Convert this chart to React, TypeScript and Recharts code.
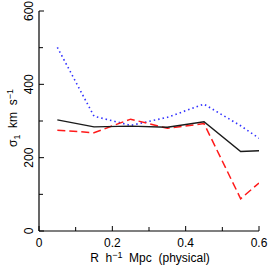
import React from 'react';
import { LineChart, Line, XAxis, YAxis } from 'recharts';

const radius = [0.05, 0.15, 0.25, 0.35, 0.45, 0.55, 0.6];
const sigmaAll = [303, 284, 286, 283, 298, 217, 219];
const sigmaBlue = [501, 313, 288, 310, 346, 287, 253];
const sigmaRed = [275, 268, 305, 280, 293, 88, 131];

const xTicks = [0, 0.1, 0.2, 0.3, 0.4, 0.5, 0.6];
const xLabels = ['0', '', '0.2', '', '0.4', '', '0.6'];
const yTicks = [0, 100, 200, 300, 400, 500, 600];
const yLabels = ['0', '', '200', '', '400', '', '600'];

const data = radius.map((r, i) => ({
  r,
  all: sigmaAll[i],
  blue: sigmaBlue[i],
  red: sigmaRed[i],
}));

const FONT = '"Liberation Sans", Arial, sans-serif';

const BottomTick = (props: any) => {
  const { x, y, payload } = props;
  const i = xTicks.indexOf(payload.value);
  const label = xLabels[i] ?? '';
  const len = label ? 5 : 4;
  return (
    <g>
      <line x1={x} y1={y} x2={x} y2={y - len} stroke="#000" strokeWidth={1} />
      {label && (
        <text x={x} y={y + 16} textAnchor="middle" fontSize={12} fontFamily={FONT} fill="#000">
          {label}
        </text>
      )}
    </g>
  );
};

const TopTick = (props: any) => {
  const { x, y, payload } = props;
  const i = xTicks.indexOf(payload.value);
  const len = xLabels[i] ? 5 : 4;
  return <line x1={x} y1={y} x2={x} y2={y + len} stroke="#000" strokeWidth={1} />;
};

const LeftTick = (props: any) => {
  const { x, y, payload } = props;
  const i = yTicks.indexOf(payload.value);
  const label = yLabels[i] ?? '';
  const len = label ? 5 : 4;
  return (
    <g>
      <line x1={x} y1={y} x2={x + len} y2={y} stroke="#000" strokeWidth={1} />
      {label && (
        <text
          x={x - 6}
          y={y}
          transform={`rotate(-90, ${x - 6}, ${y})`}
          textAnchor="middle"
          fontSize={12}
          fontFamily={FONT}
          fill="#000"
        >
          {label}
        </text>
      )}
    </g>
  );
};

const RightTick = (props: any) => {
  const { x, y, payload } = props;
  const i = yTicks.indexOf(payload.value);
  const len = yLabels[i] ? 5 : 4;
  return <line x1={x} y1={y} x2={x - len} y2={y} stroke="#000" strokeWidth={1} />;
};

const YTitle = () => (
  <text
    x={17}
    y={118}
    transform="rotate(-90, 17, 118)"
    textAnchor="middle"
    fontSize={12}
    fontFamily={FONT}
    fill="#000"
    style={{ whiteSpace: 'pre' }}
  >
    σ<tspan fontSize={9} dy={3}>1</tspan>
    <tspan dy={-3}>{'  km  s'}</tspan>
    <tspan fontSize={9} dy={-4}>−1</tspan>
  </text>
);

const XTitle = () => (
  <text
    x={150}
    y={262}
    textAnchor="middle"
    fontSize={12}
    fontFamily={FONT}
    fill="#000"
    style={{ whiteSpace: 'pre' }}
  >
    {'R  h'}<tspan fontSize={9} dy={-4}>−1</tspan>
    <tspan dy={4}>{'  Mpc  (physical)'}</tspan>
  </text>
);

export default function App() {
  return (
    <div>
      <style>{'body{margin:0}'}</style>
      <LineChart
        width={268}
        height={273}
        data={data}
        margin={{ top: 11, right: 9, left: 0, bottom: 0 }}
      >
        <XAxis
          dataKey="r"
          type="number"
          domain={[0, 0.6]}
          ticks={xTicks}
          interval={0}
          height={42}
          tickSize={0}
          tickMargin={0}
          tick={<BottomTick />}
          tickLine={false}
          axisLine={{ stroke: '#000', strokeWidth: 1.2 }}
          allowDataOverflow
          label={{ content: () => <XTitle /> }}
        />
        <XAxis
          xAxisId="top"
          orientation="top"
          dataKey="r"
          type="number"
          domain={[0, 0.6]}
          ticks={xTicks}
          interval={0}
          height={0}
          tickSize={0}
          tickMargin={0}
          tick={<TopTick />}
          tickLine={false}
          axisLine={{ stroke: '#000', strokeWidth: 1.2 }}
          allowDataOverflow
        />
        <YAxis
          type="number"
          domain={[0, 600]}
          ticks={yTicks}
          interval={0}
          width={39}
          tickSize={0}
          tickMargin={0}
          tick={<LeftTick />}
          tickLine={false}
          axisLine={{ stroke: '#000', strokeWidth: 1.2 }}
          allowDataOverflow
          label={{ content: () => <YTitle /> }}
        />
        <YAxis
          yAxisId="right"
          orientation="right"
          type="number"
          domain={[0, 600]}
          ticks={yTicks}
          interval={0}
          width={0}
          tickSize={0}
          tickMargin={0}
          tick={<RightTick />}
          tickLine={false}
          axisLine={{ stroke: '#000', strokeWidth: 1.2 }}
          allowDataOverflow
        />
        <Line
          dataKey="blue"
          type="linear"
          stroke="#3030ff"
          strokeWidth={1.6}
          strokeDasharray="1.5 3"
          dot={false}
          isAnimationActive={false}
        />
        <Line
          dataKey="red"
          type="linear"
          stroke="#ff1a1a"
          strokeWidth={1.5}
          strokeDasharray="8 4"
          dot={false}
          isAnimationActive={false}
        />
        <Line
          dataKey="all"
          type="linear"
          stroke="#1a1a1a"
          strokeWidth={1.4}
          dot={false}
          isAnimationActive={false}
        />
      </LineChart>
    </div>
  );
}
